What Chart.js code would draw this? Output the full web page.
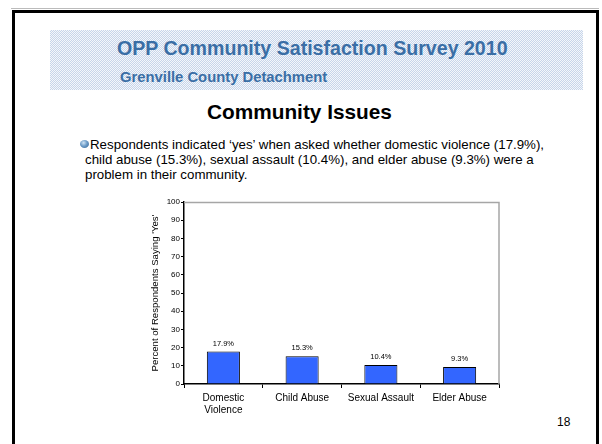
<!DOCTYPE html>
<html>
<head>
<meta charset="utf-8">
<script src="https://cdn.jsdelivr.net/npm/chart.js@4.4.0/dist/chart.umd.min.js"></script>
<style>
  html, body { margin:0; padding:0; background:#fff; }
  #page { position:relative; width:602px; height:444px; overflow:hidden; font-family:"Liberation Sans", Arial, sans-serif; }
  #shadow { position:absolute; left:11px; top:8px; width:588px; height:1px; background:#bbb; }
  #frame { position:absolute; left:12px; top:10px; width:581px; height:460px; border:3px solid #000; border-bottom:none; }
  #band { position:absolute; left:50px; top:30px; width:533px; height:60px;
          background-color:#dfe7f2;
          background-image:repeating-conic-gradient(#c7d5ea 0 25%, #f4f7fb 0 50%);
          background-size:2px 2px; }
  #title { position:absolute; left:117px; top:38px; line-height:20px; white-space:nowrap; font-weight:bold; font-size:19.6px; color:#3a6ea5; }
  #subtitle { position:absolute; left:120px; top:69px; line-height:16px; white-space:nowrap; font-weight:bold; font-size:14.8px; color:#3a6ea5; }
  #heading { position:absolute; left:207px; top:101px; line-height:22px; white-space:nowrap; font-weight:bold; font-size:20.8px; color:#000; }
  #bullet { position:absolute; left:80px; top:140px; width:9px; height:8px; border-radius:50%;
            background:radial-gradient(circle at 40% 35%, #cfe3f5 0, #6c9cc8 45%, #2d5f92 100%); }
  #text { position:absolute; left:85px; top:136.5px; font-size:13.3px; line-height:15.3px; color:#000; white-space:nowrap; }
  #text .first { padding-left:5px; }
  #chartbox { position:absolute; left:130px; top:190px; width:390px; height:230px; }
  #pagenum { position:absolute; left:557px; top:415px; font-size:12px; color:#000; }
</style>
</head>
<body>
<div id="page">
  <div id="shadow"></div>
  <div id="frame"></div>
  <div id="band"></div>
  <div id="title">OPP Community Satisfaction Survey 2010</div>
  <div id="subtitle">Grenville County Detachment</div>
  <div id="heading">Community Issues</div>
  <div id="bullet"></div>
  <div id="text"><span class="first">Respondents indicated ‘yes’ when asked whether domestic violence (17.9%),</span><br>child abuse (15.3%), sexual assault (10.4%), and elder abuse (9.3%) were a<br>problem in their community.</div>
  <div id="chartbox"><canvas id="c" width="390" height="230"></canvas></div>
  <div id="pagenum">18</div>
</div>
<script>
const categories = [["Domestic", "Violence"], "Child Abuse", "Sexual Assault", "Elder Abuse"];
const values = [17.9, 15.3, 10.4, 9.3];
const valueLabels = ["17.9%", "15.3%", "10.4%", "9.3%"];
const yTicks = [0, 10, 20, 30, 40, 50, 60, 70, 80, 90, 100];
const yTitle = "Percent of Respondents Saying 'Yes'";

const FONT = "'Liberation Sans', Arial, sans-serif";

const valueLabelPlugin = {
  id: 'valueLabels',
  afterDatasetsDraw(chart) {
    const ctx = chart.ctx;
    const meta = chart.getDatasetMeta(0);
    ctx.save();
    ctx.font = "7.5px " + FONT;
    ctx.fillStyle = "#000";
    ctx.textAlign = "center";
    ctx.textBaseline = "bottom";
    meta.data.forEach((bar, i) => {
      ctx.fillText(valueLabels[i], bar.x, bar.y - 4);
    });
    ctx.restore();
  }
};

const frameLines = {
  id: 'frameLines',
  beforeDatasetsDraw(chart) {
    const a = chart.chartArea, ctx = chart.ctx;
    ctx.save();
    ctx.strokeStyle = "#a6a6a6";
    ctx.lineWidth = 1.5;
    ctx.beginPath();
    ctx.moveTo(a.left, a.top + 0.5);
    ctx.lineTo(a.right, a.top + 0.5);
    ctx.lineTo(a.right, a.bottom);
    ctx.stroke();
    ctx.restore();
  }
};

new Chart(document.getElementById('c'), {
  type: 'bar',
  data: {
    labels: categories,
    datasets: [{
      data: values,
      backgroundColor: '#3366ff',
      borderColor: '#000',
      borderWidth: 1,
      categoryPercentage: 1.0,
      barPercentage: 0.42
    }]
  },
  plugins: [valueLabelPlugin, frameLines],
  options: {
    responsive: false,
    animation: false,
    devicePixelRatio: 1,
    layout: { padding: { top: 12, right: 21, left: 20, bottom: 0 } },
    plugins: { legend: { display: false }, tooltip: { enabled: false } },
    scales: {
      x: {
        grid: { display: true, drawOnChartArea: false, drawTicks: true, tickLength: 4, color: '#000', offset: true },
        border: { display: true, color: '#000', width: 1.5 },
        ticks: { color: '#000', font: { family: FONT, size: 10 }, padding: 4, maxRotation: 0, autoSkip: false },
        afterFit(s) { s.height = 36; }
      },
      y: {
        min: 0, max: 100,
        afterBuildTicks(s) { s.ticks = yTicks.map(v => ({ value: v })); },
        grid: { display: true, drawOnChartArea: false, drawTicks: true, tickLength: 3, color: '#000' },
        border: { display: true, color: '#000', width: 1.5 },
        ticks: { color: '#000', font: { family: FONT, size: 8 }, padding: 1 },
        title: { display: true, text: yTitle, color: '#000', font: { family: FONT, size: 9.6 }, padding: { top: 0, bottom: 0 } },
        afterFit(s) { s.width = 34; }
      }
    }
  }
});
</script>
</body>
</html>
